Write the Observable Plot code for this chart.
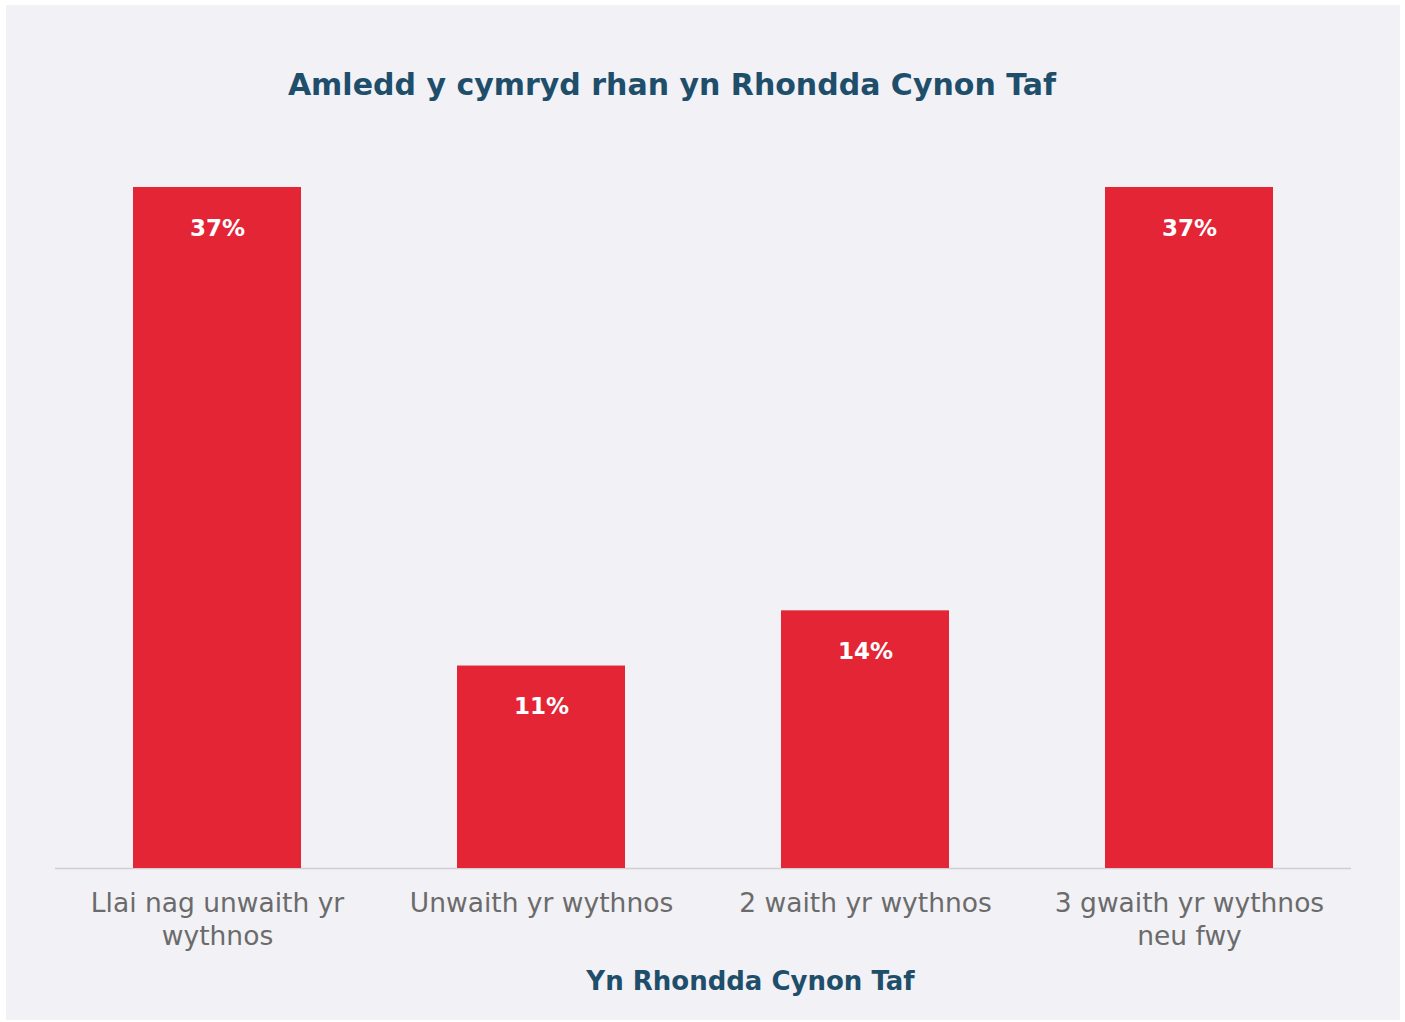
<!DOCTYPE html>
<html>
<head>
<meta charset="utf-8">
<script src="https://cdn.jsdelivr.net/npm/d3@7"></script>
<script src="https://cdn.jsdelivr.net/npm/@observablehq/plot@0.6"></script>
<style>
  html, body { margin: 0; padding: 0; background: #ffffff; }
  #panel {
    position: absolute; left: 6px; top: 5px; width: 1394px; height: 1015px;
    background: #f1f1f6; overflow: hidden;
  }
  #title {
    height: 120px; box-sizing: border-box; padding-top: 62px; line-height: 36px;
    font-family: "DejaVu Sans", sans-serif; font-weight: bold; font-size: 30px;
    color: #1f4e6b; text-align: center; position: relative; left: -31px;
  }
  #chart svg { display: block; }
</style>
</head>
<body>
<div id="panel">
  <div id="title">Amledd y cymryd rhan yn Rhondda Cynon Taf</div>
  <div id="chart"></div>
</div>
<script>
const categories = [
  "Llai nag unwaith yr\nwythnos",
  "Unwaith yr wythnos",
  "2 waith yr wythnos",
  "3 gwaith yr wythnos\nneu fwy"
];
const values = [37, 11, 14, 37];
const valueLabels = ["37%", "11%", "14%", "37%"];
const xAxisTitle = "Yn Rhondda Cynon Taf";

const data = categories.map((c, i) => ({cat: c, value: values[i], label: valueLabels[i]}));

const chart = Plot.plot({
  width: 1394,
  height: 895,
  marginLeft: 49,
  marginRight: 49,
  marginTop: 62,
  marginBottom: 152,
  style: {background: "transparent", fontFamily: "DejaVu Sans, sans-serif"},
  x: {domain: categories, paddingInner: 0.4815, paddingOuter: 0.2407, label: null},
  y: {domain: [0, 37], axis: null},
  marks: [
    Plot.ruleY([0], {stroke: "#cfcfd4", strokeWidth: 1.5}),
    Plot.barY(data, {x: "cat", y: "value", fill: "#e32536"}),
    Plot.text(data, {x: "cat", y: "value", text: "label", dy: 41, fill: "#ffffff",
      fontWeight: "bold", fontSize: 23}),
    Plot.axisX({tickSize: 0, tickPadding: 20, fontSize: 26.5, lineHeight: 1.245,
      color: "#6b6b6b", label: null}),
    Plot.text([xAxisTitle], {frameAnchor: "bottom", dy: 121, dx: 47, fill: "#1f4e6b",
      fontWeight: "bold", fontSize: 26})
  ]
});
document.getElementById("chart").appendChild(chart);
</script>
</body>
</html>
